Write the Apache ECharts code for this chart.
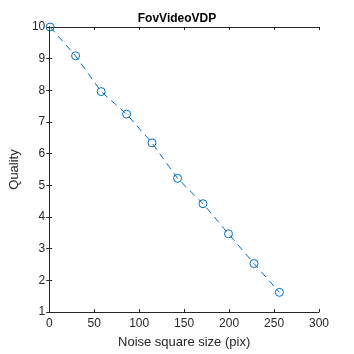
<!DOCTYPE html>
<html>
<head>
<meta charset="UTF-8">
<title>FovVideoVDP</title>
<script src="https://cdn.jsdelivr.net/npm/echarts@6/dist/echarts.min.js"></script>
<style>
  html, body { margin: 0; padding: 0; background: #fff; }
  #chart { width: 354px; height: 354px; }
</style>
</head>
<body>
<div id="chart"></div>
<script>
    // noise square size (pix) and predicted quality
    var noiseSize = [1, 29.3, 57.7, 86, 114.3, 142.7, 171, 199.3, 227.7, 256];
    var quality = [10, 9.09, 7.96, 7.25, 6.34, 5.22, 4.42, 3.47, 2.53, 1.62];
    var xTicks = [0, 50, 100, 150, 200, 250, 300];
    var yTicks = [1, 2, 3, 4, 5, 6, 7, 8, 9, 10];

    var points = [];
    for (var i = 0; i < noiseSize.length; i++) {
        points.push([noiseSize[i], quality[i]]);
    }

    var textColor = '#262626';
    var font = 'Liberation Sans, Arial, sans-serif';

    var myChart = echarts.init(document.getElementById('chart'));

    function axisBase(show) {
        return {
            axisLine: { show: true, lineStyle: { color: textColor, width: 1 } },
            axisTick: { show: true, inside: true, length: 3, lineStyle: { color: textColor } },
            axisLabel: { show: show, color: textColor, fontSize: 12, fontFamily: font },
            splitLine: { show: false }
        };
    }

    var xBottom = Object.assign(axisBase(true), {
        type: 'value', min: xTicks[0], max: xTicks[xTicks.length - 1], interval: 50,
        position: 'bottom',
        name: 'Noise square size (pix)', nameLocation: 'middle', nameGap: 24,
        nameTextStyle: { color: textColor, fontSize: 13, fontFamily: font }
    });
    xBottom.axisLabel.margin = 6;
    var xTop = Object.assign(axisBase(false), {
        type: 'value', min: xTicks[0], max: xTicks[xTicks.length - 1], interval: 50,
        position: 'top'
    });
    var yLeft = Object.assign(axisBase(true), {
        type: 'value', min: yTicks[0], max: yTicks[yTicks.length - 1], interval: 1,
        position: 'left',
        name: 'Quality', nameLocation: 'middle', nameGap: 23,
        nameTextStyle: { color: textColor, fontSize: 13, fontFamily: font }
    });
    yLeft.axisLabel.margin = 4;
    var yRight = Object.assign(axisBase(false), {
        type: 'value', min: yTicks[0], max: yTicks[yTicks.length - 1], interval: 1,
        position: 'right'
    });

    var option = {
        animation: false,
        backgroundColor: '#fff',
        title: {
            text: 'FovVideoVDP',
            left: 'center',
            top: 8,
            textStyle: { color: '#000', fontSize: 12, fontWeight: 'bold', fontFamily: font }
        },
        grid: { left: 46, right: 35, top: 27, bottom: 40 },
        xAxis: [xBottom, xTop],
        yAxis: [yLeft, yRight],
        series: [
            {
                type: 'line',
                data: points,
                xAxisIndex: 0,
                yAxisIndex: 0,
                symbol: 'circle',
                symbolSize: 8,
                showAllSymbol: true,
                lineStyle: { color: '#0072BD', width: 1, type: [7, 5] },
                itemStyle: { color: 'rgba(0,0,0,0)', borderColor: '#0072BD', borderWidth: 1 },
                emphasis: { disabled: true }
            }
        ]
    };

    myChart.setOption(option);
</script>
</body>
</html>
